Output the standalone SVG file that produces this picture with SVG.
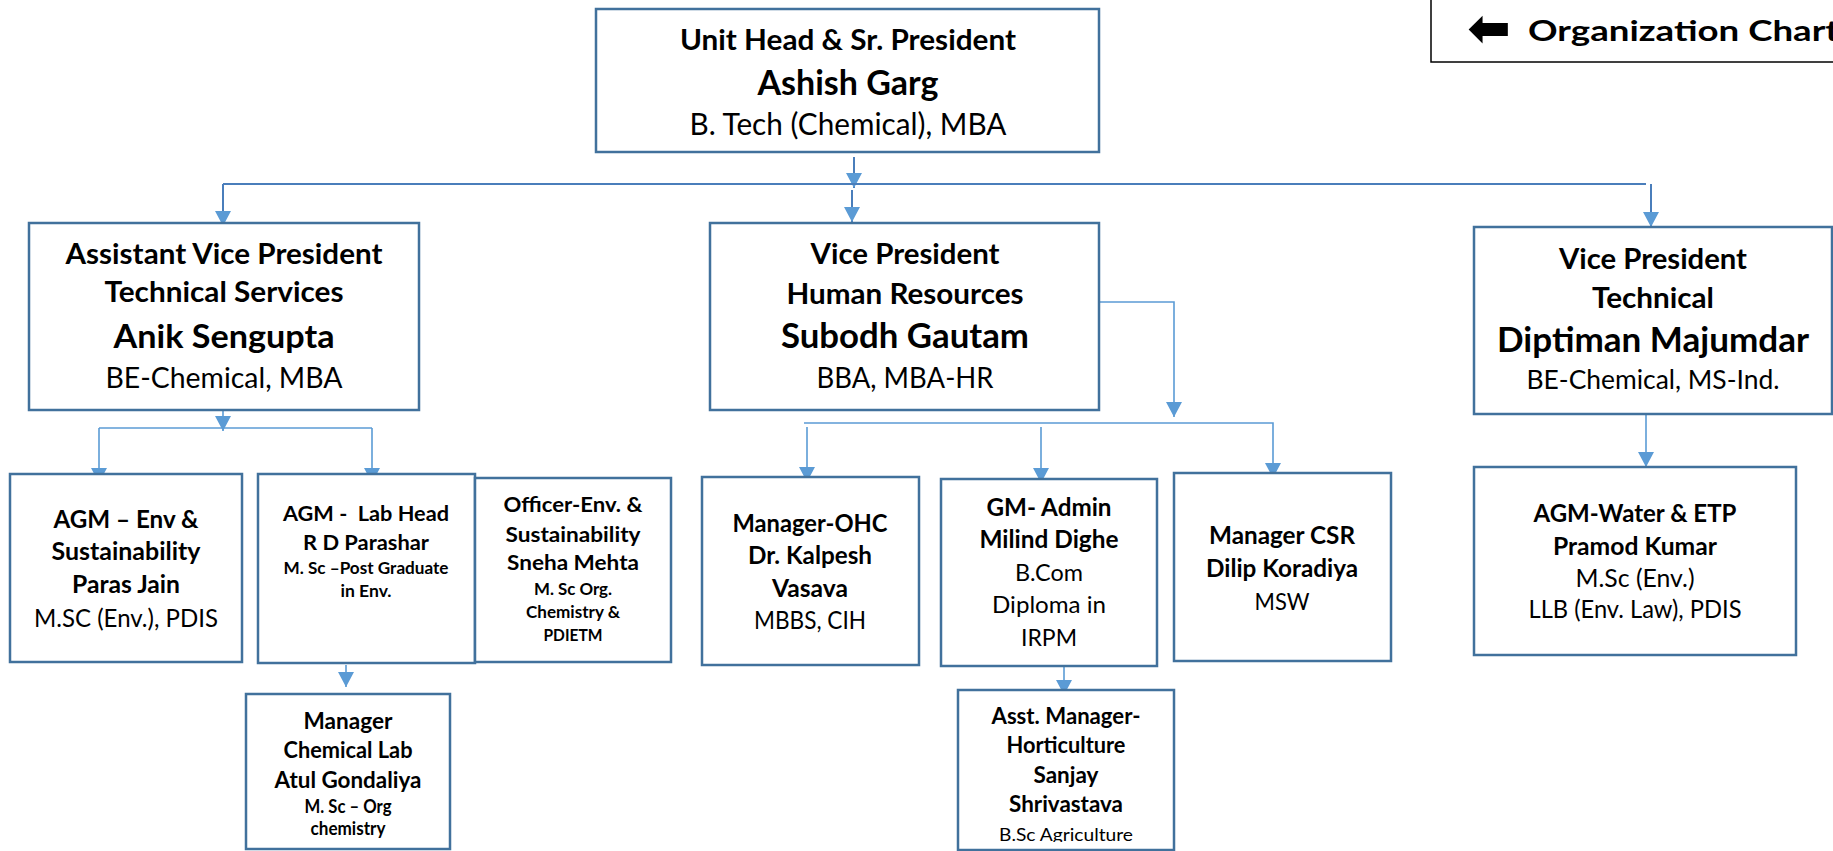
<svg xmlns="http://www.w3.org/2000/svg" width="1833" height="851" viewBox="0 0 1833 851">
<style>
text{font-family:Lato,"Open Sans","Liberation Sans",sans-serif;fill:#000;text-anchor:middle}
.b{font-weight:bold}
.r{font-weight:normal}
.box{fill:#fff;stroke:#41719C;stroke-width:2.5}
.c1{fill:none;stroke:#4A7EBB;stroke-width:2}
.c2{fill:none;stroke:#5B9BD5;stroke-width:1.6}
</style>
<defs>
<marker id="ah" markerUnits="userSpaceOnUse" markerWidth="16" markerHeight="17" refX="15" refY="8" orient="auto" viewBox="0 0 16 17">
<path d="M0,0 L15,8 L0,16 z" fill="#5B9BD5"/>
</marker>
<clipPath id="clipB"><rect x="0" y="0" width="1833" height="842"/></clipPath>
</defs>

<g id="title">
<rect x="1431" y="-3" width="420" height="65" fill="#fff" stroke="#000" stroke-width="1.5"/>
<text x="1489" y="46" style="font-family:'DejaVu Sans',sans-serif;font-size:52px;font-weight:bold">⬅</text>
<text x="1528" y="41" class="b" style="font-size:29px;text-anchor:start" textLength="311" lengthAdjust="spacingAndGlyphs">Organization Chart</text>
</g>

<g id="connectors">
<line class="c1" x1="854" y1="157" x2="854" y2="188" marker-end="url(#ah)"/>
<line class="c1" x1="223" y1="184" x2="1646" y2="184"/>
<line class="c1" x1="852" y1="190" x2="852" y2="222" marker-end="url(#ah)"/>
<line class="c1" x1="223" y1="184" x2="223" y2="226" marker-end="url(#ah)"/>
<line class="c1" x1="1651" y1="184" x2="1651" y2="227" marker-end="url(#ah)"/>
<line class="c2" x1="223" y1="411" x2="223" y2="431" marker-end="url(#ah)"/>
<line class="c2" x1="99" y1="428" x2="372" y2="428"/>
<line class="c2" x1="99" y1="428" x2="99" y2="483" marker-end="url(#ah)"/>
<line class="c2" x1="372" y1="428" x2="372" y2="483" marker-end="url(#ah)"/>
<polyline class="c2" points="1099,302 1174,302 1174,417" marker-end="url(#ah)"/>
<polyline class="c2" points="804,423 1273,423 1273,478" marker-end="url(#ah)"/>
<line class="c2" x1="807" y1="427" x2="807" y2="482" marker-end="url(#ah)"/>
<line class="c2" x1="1041" y1="427" x2="1041" y2="483" marker-end="url(#ah)"/>
<line class="c2" x1="1064" y1="667" x2="1064" y2="695" marker-end="url(#ah)"/>
<line class="c2" x1="346" y1="665" x2="346" y2="687" marker-end="url(#ah)"/>
<line class="c2" x1="1646" y1="411" x2="1646" y2="467" marker-end="url(#ah)"/>
<line class="c2" x1="501" y1="582" x2="530" y2="582"/>
</g>

<g id="n-unit-head">
<rect class="box" x="596" y="9" width="503" height="143"/>
<text x="848" y="50" class="b" style="font-size:28px" textLength="336" lengthAdjust="spacingAndGlyphs">Unit Head &amp; Sr. President</text>
<text x="848" y="95" class="b" style="font-size:35px" textLength="181" lengthAdjust="spacingAndGlyphs">Ashish Garg</text>
<text x="848" y="135" class="r" style="font-size:30.5px" textLength="317" lengthAdjust="spacingAndGlyphs">B. Tech (Chemical), MBA</text>
</g>

<g id="n-avp-tech">
<rect class="box" x="29" y="223" width="390" height="187"/>
<text x="224" y="264" class="b" style="font-size:29px" textLength="317" lengthAdjust="spacingAndGlyphs">Assistant Vice President</text>
<text x="224" y="302" class="b" style="font-size:29px" textLength="239" lengthAdjust="spacingAndGlyphs">Technical Services</text>
<text x="224" y="348" class="b" style="font-size:33px" textLength="221" lengthAdjust="spacingAndGlyphs">Anik Sengupta</text>
<text x="224" y="388" class="r" style="font-size:29px" textLength="237" lengthAdjust="spacingAndGlyphs">BE-Chemical, MBA</text>
</g>

<g id="n-vp-hr">
<rect class="box" x="710" y="223" width="389" height="187"/>
<text x="905" y="264" class="b" style="font-size:29px" textLength="189" lengthAdjust="spacingAndGlyphs">Vice President</text>
<text x="905" y="304" class="b" style="font-size:29px" textLength="237" lengthAdjust="spacingAndGlyphs">Human Resources</text>
<text x="905" y="348" class="b" style="font-size:34px" textLength="248" lengthAdjust="spacingAndGlyphs">Subodh Gautam</text>
<text x="905" y="388" class="r" style="font-size:29px" textLength="177" lengthAdjust="spacingAndGlyphs">BBA, MBA-HR</text>
</g>

<g id="n-vp-tech">
<rect class="box" x="1474" y="227" width="358" height="187"/>
<text x="1653" y="269" class="b" style="font-size:29px" textLength="188" lengthAdjust="spacingAndGlyphs">Vice President</text>
<text x="1653" y="308" class="b" style="font-size:29px" textLength="122" lengthAdjust="spacingAndGlyphs">Technical</text>
<text x="1653" y="352" class="b" style="font-size:34px" textLength="312" lengthAdjust="spacingAndGlyphs">Diptiman Majumdar</text>
<text x="1653" y="389" class="r" style="font-size:27.5px" textLength="253" lengthAdjust="spacingAndGlyphs">BE-Chemical, MS-Ind.</text>
</g>

<g id="n-agm-env">
<rect class="box" x="10" y="474" width="232" height="188"/>
<text x="126" y="528" class="b" style="font-size:24px" textLength="145" lengthAdjust="spacingAndGlyphs">AGM – Env &amp;</text>
<text x="126" y="560" class="b" style="font-size:24px" textLength="149" lengthAdjust="spacingAndGlyphs">Sustainability</text>
<text x="126" y="593" class="b" style="font-size:24px" textLength="108" lengthAdjust="spacingAndGlyphs">Paras Jain</text>
<text x="126" y="627" class="r" style="font-size:25px" textLength="184" lengthAdjust="spacingAndGlyphs">M.SC (Env.), PDIS</text>
</g>

<g id="n-agm-lab">
<rect class="box" x="258" y="474" width="217" height="189"/>
<text x="366" y="521" class="b" style="font-size:21.5px;white-space:pre" textLength="166" lengthAdjust="spacingAndGlyphs">AGM -  Lab Head</text>
<text x="366" y="550" class="b" style="font-size:21.5px" textLength="126" lengthAdjust="spacingAndGlyphs">R D Parashar</text>
<text x="366" y="574" class="b" style="font-size:17.5px" textLength="165" lengthAdjust="spacingAndGlyphs">M. Sc –Post Graduate</text>
<text x="366" y="597" class="b" style="font-size:17.5px" textLength="51" lengthAdjust="spacingAndGlyphs">in Env.</text>
</g>

<g id="n-officer-env">
<rect class="box" x="475" y="478" width="196" height="184"/>
<text x="573" y="512" class="b" style="font-size:21.5px" textLength="139" lengthAdjust="spacingAndGlyphs">Officer-Env. &amp;</text>
<text x="573" y="542" class="b" style="font-size:21.5px" textLength="135" lengthAdjust="spacingAndGlyphs">Sustainability</text>
<text x="573" y="570" class="b" style="font-size:21.5px" textLength="132" lengthAdjust="spacingAndGlyphs">Sneha Mehta</text>
<text x="573" y="595" class="b" style="font-size:17px" textLength="78" lengthAdjust="spacingAndGlyphs">M. Sc Org.</text>
<text x="573" y="618" class="b" style="font-size:17px" textLength="94" lengthAdjust="spacingAndGlyphs">Chemistry &amp;</text>
<text x="573" y="641" class="b" style="font-size:17px" textLength="59" lengthAdjust="spacingAndGlyphs">PDIETM</text>
</g>

<g id="n-chem-lab">
<rect class="box" x="246" y="694" width="204" height="155"/>
<text x="348" y="729" class="b" style="font-size:22px" textLength="89" lengthAdjust="spacingAndGlyphs">Manager</text>
<text x="348" y="758" class="b" style="font-size:22px" textLength="129" lengthAdjust="spacingAndGlyphs">Chemical Lab</text>
<text x="348" y="788" class="b" style="font-size:22px" textLength="147" lengthAdjust="spacingAndGlyphs">Atul Gondaliya</text>
<text x="348" y="813" class="b" style="font-size:18px" textLength="87" lengthAdjust="spacingAndGlyphs">M. Sc – Org</text>
<text x="348" y="835" class="b" style="font-size:18px" textLength="75" lengthAdjust="spacingAndGlyphs">chemistry</text>
</g>

<g id="n-ohc">
<rect class="box" x="702" y="477" width="217" height="188"/>
<text x="810" y="532" class="b" style="font-size:25px" textLength="155" lengthAdjust="spacingAndGlyphs">Manager-OHC</text>
<text x="810" y="564" class="b" style="font-size:25px" textLength="124" lengthAdjust="spacingAndGlyphs">Dr. Kalpesh</text>
<text x="810" y="597" class="b" style="font-size:25px" textLength="76" lengthAdjust="spacingAndGlyphs">Vasava</text>
<text x="810" y="629" class="r" style="font-size:25px" textLength="112" lengthAdjust="spacingAndGlyphs">MBBS, CIH</text>
</g>

<g id="n-gm-admin">
<rect class="box" x="941" y="479" width="216" height="187"/>
<text x="1049" y="516" class="b" style="font-size:24.5px" textLength="125" lengthAdjust="spacingAndGlyphs">GM- Admin</text>
<text x="1049" y="548" class="b" style="font-size:24.5px" textLength="139" lengthAdjust="spacingAndGlyphs">Milind Dighe</text>
<text x="1049" y="581" class="r" style="font-size:23.5px" textLength="68" lengthAdjust="spacingAndGlyphs">B.Com</text>
<text x="1049" y="613" class="r" style="font-size:23.5px" textLength="114" lengthAdjust="spacingAndGlyphs">Diploma in</text>
<text x="1049" y="646" class="r" style="font-size:23.5px" textLength="56" lengthAdjust="spacingAndGlyphs">IRPM</text>
</g>

<g id="n-horticulture">
<rect class="box" x="958" y="690" width="216" height="160"/>
<text x="1066" y="724" class="b" style="font-size:22.5px" textLength="149" lengthAdjust="spacingAndGlyphs">Asst. Manager-</text>
<text x="1066" y="753" class="b" style="font-size:22.5px" textLength="119" lengthAdjust="spacingAndGlyphs">Horticulture</text>
<text x="1066" y="783" class="b" style="font-size:22.5px" textLength="65" lengthAdjust="spacingAndGlyphs">Sanjay</text>
<text x="1066" y="812" class="b" style="font-size:22.5px" textLength="114" lengthAdjust="spacingAndGlyphs">Shrivastava</text>
<text x="1066" y="841" class="r" style="font-size:18px" textLength="134" lengthAdjust="spacingAndGlyphs" clip-path="url(#clipB)">B.Sc Agriculture</text>
</g>

<g id="n-csr">
<rect class="box" x="1174" y="473" width="217" height="188"/>
<text x="1282" y="544" class="b" style="font-size:24px" textLength="146" lengthAdjust="spacingAndGlyphs">Manager CSR</text>
<text x="1282" y="577" class="b" style="font-size:24px" textLength="152" lengthAdjust="spacingAndGlyphs">Dilip Koradiya</text>
<text x="1282" y="610" class="r" style="font-size:24px" textLength="55" lengthAdjust="spacingAndGlyphs">MSW</text>
</g>

<g id="n-agm-water">
<rect class="box" x="1474" y="467" width="322" height="188"/>
<text x="1635" y="522" class="b" style="font-size:24px" textLength="203" lengthAdjust="spacingAndGlyphs">AGM-Water &amp; ETP</text>
<text x="1635" y="555" class="b" style="font-size:24px" textLength="164" lengthAdjust="spacingAndGlyphs">Pramod Kumar</text>
<text x="1635" y="587" class="r" style="font-size:24.5px" textLength="119" lengthAdjust="spacingAndGlyphs">M.Sc (Env.)</text>
<text x="1635" y="618" class="r" style="font-size:24.5px" textLength="213" lengthAdjust="spacingAndGlyphs">LLB (Env. Law), PDIS</text>
</g>
</svg>
